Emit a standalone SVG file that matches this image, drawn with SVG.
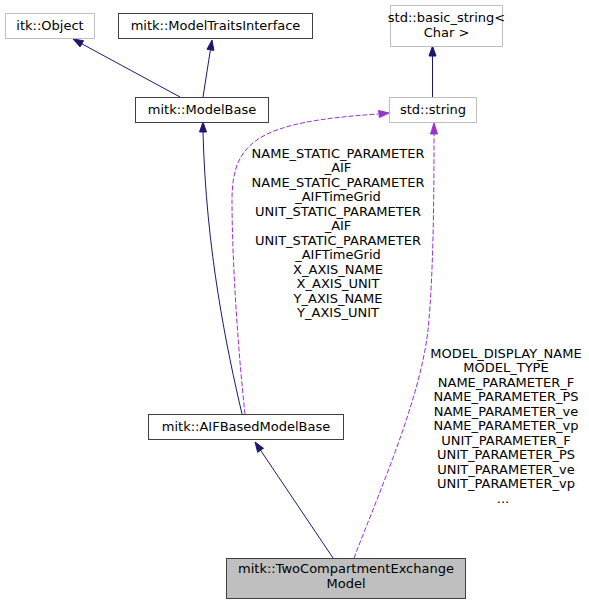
<svg xmlns="http://www.w3.org/2000/svg" width="589" height="604" viewBox="0 0 589 604">
<style>
text{font-family:"DejaVu Sans",sans-serif;font-size:13px;text-anchor:middle;fill:#000}
.n rect{fill:#fff;stroke:#404040;stroke-width:1}
.g rect{fill:#fff;stroke:#bfbfbf;stroke-width:1}
.sel rect{fill:#bfbfbf;stroke:#404040;stroke-width:1}
.inh{fill:none;stroke:#191970;stroke-width:1}
.inhh{fill:#191970;stroke:#191970}
.use{fill:none;stroke:#9a32cd;stroke-width:1;stroke-dasharray:5,2}
.useh{fill:#9a32cd;stroke:#9a32cd}
</style>
<rect width="589" height="604" fill="#fff"/>
<g id="edges">
<path class="inh" d="M180,97 L81.8,43.8"/>
<polygon class="inhh" points="83.5,40.7 80.1,46.9 73,39"/>
<path class="inh" d="M203,97 L210.4,49.9"/>
<polygon class="inhh" points="213.9,50.4 207,49.3 212,40"/>
<path class="inh" d="M432.5,97 L432.5,56"/>
<polygon class="inhh" points="429,56 436,56 432.5,46"/>
<path class="inh" d="M242,414 C227,350 206,250 203,132"/>
<polygon class="inhh" points="199.5,132 206.5,132 203,122"/>
<path class="use" d="M245,414 C238,350 232,260 232,200 C232,140 260,122 378,114"/>
<polygon class="useh" points="378.6,110.5 379.4,117.5 389,113"/>
<path class="inh" d="M333,558 L260.6,450.3"/>
<polygon class="inhh" points="263.5,448.3 257.7,452.3 255,442"/>
<path class="use" d="M354,558 C380,490 420,400 428,330 C434,270 434,180 434,134"/>
<polygon class="useh" points="430.5,134 437.5,134 434,123"/>
<text x="338" y="157.5">NAME_STATIC_PARAMETER</text>
<text x="338" y="172">_AIF</text>
<text x="338" y="186.5">NAME_STATIC_PARAMETER</text>
<text x="338" y="201">_AIFTimeGrid</text>
<text x="338" y="215.5">UNIT_STATIC_PARAMETER</text>
<text x="338" y="230">_AIF</text>
<text x="338" y="244.5">UNIT_STATIC_PARAMETER</text>
<text x="338" y="259">_AIFTimeGrid</text>
<text x="338" y="273.5">X_AXIS_NAME</text>
<text x="338" y="288">X_AXIS_UNIT</text>
<text x="338" y="302.5">Y_AXIS_NAME</text>
<text x="338" y="317">Y_AXIS_UNIT</text>
<text x="506" y="357.5">MODEL_DISPLAY_NAME</text>
<text x="506" y="372">MODEL_TYPE</text>
<text x="506" y="386.5">NAME_PARAMETER_F</text>
<text x="506" y="401">NAME_PARAMETER_PS</text>
<text x="506" y="415.5">NAME_PARAMETER_ve</text>
<text x="506" y="430">NAME_PARAMETER_vp</text>
<text x="506" y="444.5">UNIT_PARAMETER_F</text>
<text x="506" y="459">UNIT_PARAMETER_PS</text>
<text x="506" y="473.5">UNIT_PARAMETER_ve</text>
<text x="506" y="488">UNIT_PARAMETER_vp</text>
<text x="503" y="502.5">...</text>
</g>
<g id="itkObject" class="g"><rect x="5.5" y="13.5" width="89" height="25"/><text x="50" y="30">itk::Object</text></g>
<g id="ModelTraitsInterface" class="n"><rect x="118.5" y="13.5" width="194" height="25"/><text x="215.5" y="30">mitk::ModelTraitsInterface</text></g>
<g id="basicString" class="g"><rect x="390.5" y="5.5" width="112" height="41"/><text x="446.5" y="22">std::basic_string&lt;</text><text x="446.5" y="37">Char &gt;</text></g>
<g id="ModelBase" class="n"><rect x="135.5" y="97.5" width="133" height="25"/><text x="202" y="114">mitk::ModelBase</text></g>
<g id="stdString" class="g"><rect x="389.5" y="97.5" width="87" height="25"/><text x="433" y="114">std::string</text></g>
<g id="AIFBasedModelBase" class="n"><rect x="148.5" y="414.5" width="195" height="25"/><text x="246" y="431">mitk::AIFBasedModelBase</text></g>
<g id="TwoCompartmentExchangeModel" class="sel"><rect x="226.5" y="558.5" width="239" height="40"/><text x="346" y="573">mitk::TwoCompartmentExchange</text><text x="346" y="588">Model</text></g>
</svg>
